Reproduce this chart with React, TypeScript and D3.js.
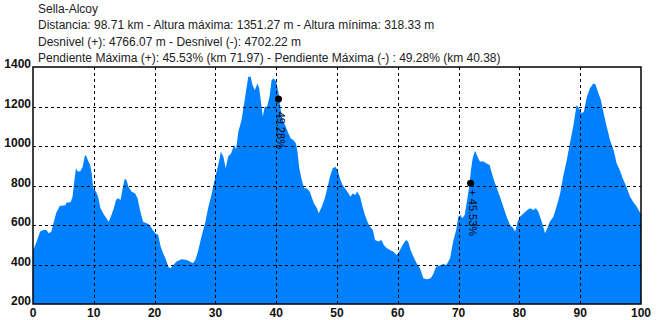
import React from "react";
import * as d3 from "d3";

const km = [0,0.6,1.15,1.7,2.2,2.6,3.0,3.8,4.4,5.3,5.5,6.2,6.5,6.75,7.07,7.4,7.8,8.17,8.55,8.8,9.1,9.4,9.65,9.9,10.36,10.7,11.1,11.7,12.1,12.45,12.9,13.3,13.65,14.0,14.4,14.75,15.1,15.4,15.7,16.2,16.8,17.2,17.6,18.1,18.7,19.2,19.7,20.1,20.6,21.0,21.4,21.9,22.25,22.6,23.1,23.6,24.45,25.3,25.8,26.3,26.7,27.2,27.7,28.3,28.8,29.4,29.8,30.2,30.6,30.9,31.3,31.7,32.1,32.6,33.06,33.4,33.77,34.3,34.9,35.4,35.8,36.1,36.5,36.9,37.2,37.45,37.8,38.1,38.5,38.9,39.25,39.6,40.0,40.35,40.7,41.0,41.45,42.0,42.4,42.8,43.25,43.5,43.8,44.2,44.6,45.0,45.5,45.9,46.2,46.7,47.0,47.5,48.0,48.4,48.85,49.3,49.7,50.1,50.5,50.9,51.3,51.9,52.2,52.6,53.0,53.3,53.8,54.2,54.6,55.0,55.4,55.9,56.25,56.8,57.3,57.7,58.2,58.7,59.3,59.8,60.2,60.8,61.35,61.7,62.1,62.55,63.1,63.65,64.2,64.75,65.4,65.8,66.3,66.9,67.5,68.0,68.6,69.1,69.6,69.95,70.3,70.6,71.0,71.4,71.75,72.0,72.3,72.7,73.1,73.5,74.1,74.6,75.1,75.4,75.8,76.2,76.8,77.35,77.9,78.45,79.0,79.3,79.7,80.1,80.7,81.2,81.75,82.3,82.7,83.1,83.4,83.85,84.2,84.6,85.0,85.6,86.1,86.7,87.2,87.8,88.3,88.9,89.4,89.8,90.25,90.6,91.1,91.6,92.15,92.5,93.0,93.4,93.8,94.3,94.9,95.5,96.0,96.5,97.0,97.6,98.2,98.7,99.3,100];
const elev = [470,516,566,575,575,558,566,660,696,700,713,717,743,811,887,870,873,895,955,947,921,904,862,786,769,743,685,651,634,617,651,685,727,735,727,786,836,825,794,769,760,735,676,617,609,600,575,558,549,490,457,423,389,381,398,415,426,423,415,406,423,473,541,609,685,760,819,870,921,971,947,887,947,963,1005,983,1072,1132,1250,1351,1351,1309,1283,1317,1292,1233,1148,1199,1199,1250,1334,1342,1325,1275,1191,1140,1106,1064,1038,1030,1013,971,887,828,786,786,769,735,710,685,659,693,735,786,845,887,895,878,836,803,786,760,743,760,752,769,743,693,651,617,592,575,524,516,524,499,482,473,465,448,465,499,524,516,473,440,406,381,330,325,330,350,389,395,403,398,432,516,575,642,651,634,651,727,794,870,937,976,947,921,921,912,904,870,828,794,743,693,642,600,583,566,617,642,659,673,685,676,685,668,642,600,558,583,617,642,693,760,845,929,1013,1106,1208,1191,1166,1174,1250,1292,1317,1313,1267,1233,1174,1106,1030,980,912,878,836,794,743,718,693,655];

const xTicks = [0,10,20,30,40,50,60,70,80,90,100];
const yTicks = [200,400,600,800,1000,1200,1400];

const titleLines = [
  "Sella-Alcoy",
  "Distancia: 98.71 km - Altura máxima: 1351.27 m - Altura mínima: 318.33 m",
  "Desnivel (+): 4766.07 m - Desnivel (-): 4702.22 m",
  "Pendiente Máxima (+): 45.53% (km 71.97) - Pendiente Máxima (-) : 49.28% (km 40.38)",
];

const markKm = [40.38, 71.97];
const markElev = [1238, 811];
const markLabel = ["- 49.28%", "+ 45.53%"];

export default function App() {
  const W = 658, H = 320;
  const L = 33, R = 641, T = 67, B = 304;
  const x = d3.scaleLinear().domain([0, 100]).range([L, R]);
  const y = d3.scaleLinear().domain([200, 1400]).range([B, T]);
  const pts = km.map((k, i) => [k, elev[i]] as [number, number]);
  const area = d3.area<[number, number]>()
    .x(d => x(d[0]))
    .y0(B)
    .y1(d => y(d[1]))(pts) || "";
  const font = "'Liberation Sans', Arial, sans-serif";
  return (
    <svg width={W} height={H} style={{ position: "absolute", left: 0, top: 0, background: "#fff" }} fontFamily={font}>
      <rect x={0} y={0} width={W} height={H} fill="#fff" />
      {titleLines.map((t, i) => (
        <text key={i} x={38} y={13 + i * 16.3} fontSize={12} fill="#222">{t}</text>
      ))}
      <path d={area} fill="#0080ff" stroke="none" />
      {yTicks.slice(1, -1).map(v => (
        <line key={"h" + v} x1={L} x2={R} y1={Math.round(y(v)) + 0.5} y2={Math.round(y(v)) + 0.5} stroke="#000" strokeDasharray="3,3" />
      ))}
      {xTicks.slice(1, -1).map(v => (
        <line key={"v" + v} x1={Math.round(x(v)) + 0.5} x2={Math.round(x(v)) + 0.5} y1={T} y2={B} stroke="#000" strokeDasharray="3,3" />
      ))}
      <rect x={L} y={T} width={R - L} height={B - T} fill="none" stroke="#000" strokeWidth={1.5} />
      {yTicks.map(v => (
        <text key={"yl" + v} x={31} y={y(v) + 1} textAnchor="end" fontSize={12} fontWeight="bold" fill="#111">{v}</text>
      ))}
      {xTicks.map(v => (
        <text key={"xl" + v} x={x(v)} y={317} textAnchor="middle" fontSize={12} fontWeight="bold" fill="#111">{v}</text>
      ))}
      {markKm.map((k, i) => (
        <g key={"m" + i}>
          <circle cx={x(k)} cy={y(markElev[i])} r={3.5} fill="#000" />
          <text transform={`translate(${x(k) - 2},${y(markElev[i]) + 6}) rotate(90)`} fontSize={11} fill="#000">{markLabel[i]}</text>
        </g>
      ))}
    </svg>
  );
}
